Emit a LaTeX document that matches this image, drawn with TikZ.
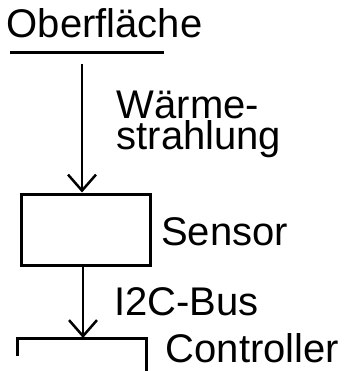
\documentclass[tikz,border=0pt]{standalone}
\usepackage{fontspec}
\setmainfont{Liberation Sans}
\usetikzlibrary{arrows.meta}

\begin{document}
\begin{tikzpicture}[x=1pt,y=-1pt,
    lbl/.style={inner sep=0pt,anchor=base west,font=\fontsize{40}{32}\selectfont},
    flow/.style={-{Straight Barb[length=16pt,width=28pt]},line width=2.5pt},
    unit/.style={draw,line width=3pt,inner sep=0pt}]
  \useasboundingbox (0,0) rectangle (343,371);
  % surface with its underline
  \node[lbl] (surface) at (6.5,38) {Oberfläche};
  \draw[line width=3pt] (10,53) coordinate (surfL) -- (164,53) coordinate (surfR);
  \coordinate (rayStart) at (82,64);
  % sensor
  \node[unit,minimum width=129pt,minimum height=71.5pt] (sensor) at (85.5,229.75) {};
  \node[lbl] (sensorLbl) at (161,245) {Sensor};
  \draw[flow] (rayStart) -- (rayStart |- sensor.north);
  \node[lbl,align=left] (radiation) at (116.5,150) {Wärme-\\strahlung};
  % controller, cut off at the bottom
  \draw[line width=3pt] (17.5,356) -- (17.5,338) coordinate (ctrlTL)
    -- (146.3,338) coordinate (ctrlTR) -- (146.3,372);
  \node[lbl] (ctrlLbl) at (165.5,362) {Controller};
  \coordinate (busEnd) at (83,338);
  \draw[flow] (busEnd |- sensor.south) -- (busEnd);
  \node[lbl] (bus) at (114,315) {I2C-Bus};
\end{tikzpicture}
\end{document}
